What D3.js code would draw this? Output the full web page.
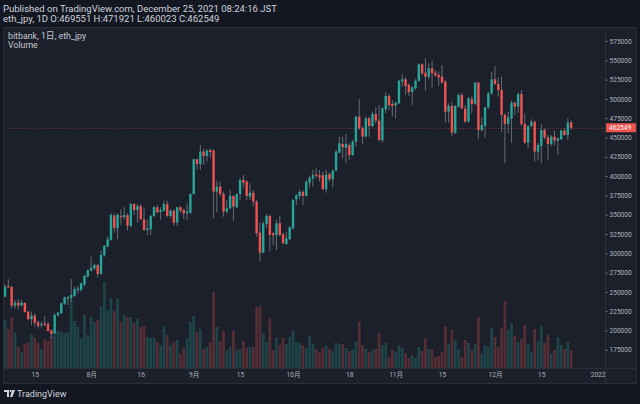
<!DOCTYPE html>
<html><head><meta charset="utf-8">
<script src="https://cdn.jsdelivr.net/npm/d3@7"></script>
<style>html,body{margin:0;padding:0;background:#131722;overflow:hidden}
text{font-family:Roboto,"Noto Sans CJK JP",sans-serif}</style>
</head><body>
<svg id="c" width="640" height="404"></svg>
<script>
// ---------------- DATA ----------------
const startDate = "2021-07-06";
const opens = [243900,257700,256400,232250,236130,232250,235700,224470,214550,219290,210660,206780,209370,208500,199870,196420,219730,222310,234410,241310,241740,244770,252540,252540,259440,269800,277580,280600,284480,273260,297430,308650,317290,348800,332400,
348370,346640,349230,335420,363910,356140,361320,344050,330230,331100,348370,359590,353550,355270,363910,348370,355270,339730,359590,356140,351820,352680,376860,421760,415710,431680,426070,433840,432980,379880,386360,376860,353980,358300,374270,
359590,376860,394990,392830,373400,378580,366930,326780,300870,338000,348370,325910,323760,338860,324620,312100,318150,332390,369950,374270,379450,374270,391530,397140,402000,401030,401030,382900,402760,395850,407070,430390,441610,436430,440310,
427360,444630,477010,461900,451100,474840,464920,480460,471830,446790,486500,503770,493410,491680,494270,522760,525360,518020,508950,513700,523200,544780,533990,528810,539600,533990,530970,528810,522330,483480,490820,456280,489960,505070,487800,
470530,499450,493410,521040,459740,465000,489090,507230,525360,519310,511540,479160,467510,474840,495140,489960,506360,467510,443330,464920,470530,431680,439020,459740,450240,441610,451100,445920,447650,458870,453260,469551];
const highs = [260300,266300,257700,239590,240450,239590,236500,224900,224470,222310,212820,211530,218860,211530,201600,222310,224470,236130,243900,244770,266780,256850,257710,262030,271960,279300,295700,286200,286200,303040,310800,321610,351826,351826,351826,
357000,360450,351820,364770,364770,363910,363910,359590,343180,349660,361320,362610,359590,368220,368220,357000,357000,360450,361320,357860,364770,377720,422620,422620,440320,436000,434700,435570,434700,394130,392830,379880,369090,382040,375560,
377720,397140,401460,394990,390670,382040,369080,339730,341020,350960,349660,328070,343180,348370,326780,328070,335410,369950,376860,382900,382040,394990,400170,407940,410100,407940,405780,407940,404480,408800,433840,451110,451110,454560,442470,
446790,477870,499450,464920,477010,477010,483480,489090,492110,489090,508090,506360,498590,496430,524490,532260,527950,520170,516720,525360,546080,546080,552550,546080,549530,537440,535280,543920,524490,494270,496430,492110,507230,508090,492110,
502910,503770,522330,522330,477010,489960,509380,535280,542620,527950,528810,481320,483480,497730,496430,508090,511540,481320,466210,473550,471830,443330,467510,461900,453260,453260,458870,450240,460600,461900,474840,471921];
const lows = [243040,255500,228800,228360,226630,230950,223180,213680,207210,205050,202890,204190,205050,198580,189940,195550,218000,221450,233110,233110,237420,243040,248220,250380,256850,268940,276280,278440,268940,271960,295700,307790,316430,326790,318150,
336710,343180,329370,333690,349660,339730,343180,329370,323330,323760,346640,351820,343180,353980,346640,345340,335420,335420,352680,344050,343180,350960,376000,408800,407940,414420,418730,423050,345340,352680,373400,347500,351820,357000,342320,
358290,369080,385490,369080,369080,361320,321600,289220,300010,332390,302170,310800,304330,321600,312100,310800,317280,330230,362610,369950,362610,373400,385490,386350,397140,392830,382040,378580,392830,385490,405780,429520,423050,416570,420890,
426070,438150,459740,441610,450240,451100,463190,468370,444630,443330,481320,485640,477010,474840,493410,515860,505070,503770,492110,511540,522330,530970,510680,525360,515000,528810,516720,520170,469240,469240,451960,454550,489090,486500,468370,
469240,481320,492110,447650,457580,450240,486500,505070,518020,502910,457580,416560,455420,443330,479160,482190,464920,441610,435990,463190,418730,420890,416560,447650,420890,439020,440310,427360,446790,451960,446790,460023];
const closes = [256850,256000,232250,236130,232250,236130,224040,214550,219290,210230,205910,208500,207640,199440,195550,220160,223180,235270,243040,243040,246060,253400,254260,261170,270670,278010,281030,284910,273260,297860,309520,318150,349668,332830,349668,
346640,349660,335850,363910,356140,361320,344050,330230,331960,348370,359590,353120,356140,363910,348370,355270,339730,359590,355270,351820,354410,376860,421760,415710,431680,426070,432980,431250,379880,386360,376860,353980,358300,374270,360450,
376860,394990,391530,374270,378580,366930,325910,300870,338860,348370,323760,323330,338860,323760,312970,319440,333680,369080,375130,379450,374270,392830,398010,401460,400300,398440,382900,401890,395850,407070,431680,442470,437290,441610,427360,
444630,477010,461900,451100,474840,464920,480460,471830,446790,487800,503770,492110,490820,495140,523630,525360,516720,508950,515000,523630,544780,533120,528810,539600,533120,530540,527950,521040,483480,490820,456280,490820,505070,487800,470530,
500750,493410,521040,459740,466210,489090,507230,525360,519310,511540,479160,467510,476140,495140,489960,506360,467510,443330,464920,470530,431680,440310,459740,450240,441610,451100,445920,448940,458870,453260,469240,462549];
const volumes = [4800,3900,5100,3600,2100,1600,2400,2600,3400,3000,2500,1900,2900,2700,3100,3800,3700,3600,3500,3600,6800,4700,4100,3000,5300,3300,5100,4600,4800,6200,8600,5800,7000,5700,7000,
4600,5300,5100,5100,4500,4900,4100,4200,3100,3000,3000,2600,2300,4200,3300,2300,2600,2800,1400,2000,3000,4600,5200,3600,3900,1900,2100,2600,7600,4100,2700,3700,1800,2100,3700,
1800,1900,2700,2000,2100,2100,6100,6200,3500,2600,5000,1800,3000,2300,3000,2400,3100,3700,2600,2500,2300,2000,3200,2400,1900,1600,2000,2200,1900,1700,2500,2400,2400,2000,1700,
1900,2700,4600,2300,1900,1600,1800,1900,3500,2300,2500,1100,1800,1600,2300,2000,1500,1000,1300,1000,2100,1700,3000,1900,1900,1100,1200,1600,4200,2400,3800,2800,1900,1100,2800,
2500,1800,2400,5100,1400,2300,2100,4000,3100,2100,4000,6700,3800,4500,3200,2600,2900,4300,2400,1600,3900,2700,4200,2500,3300,1400,1800,3100,2300,1900,2600,1800];
const priceTicks = [175000,200000,225000,250000,275000,300000,325000,350000,375000,400000,425000,450000,475000,500000,525000,550000,575000];
const timeTickDates = ["2021-07-15","2021-08-01","2021-08-16","2021-09-01","2021-09-15","2021-10-01","2021-10-18","2021-11-01","2021-11-15","2021-12-01","2021-12-15","2022-01-01"];
const timeTickLabels = ["15","8月","16","9月","15","10月","18","11月","15","12月","15","2022"];
const headerLine1 = "Published on TradingView.com, December 25, 2021 08:24:16 JST";
const headerLine2 = "eth_jpy, 1D O:469551 H:471921 L:460023 C:462549";
const legend1 = "bitbank, 1日, eth_jpy";
const legend2 = "Volume";
const lastPrice = 462549;

// ---------------- LAYOUT ----------------
const W = 640, H = 404;
const paneL = 3, paneR = 637, paneT = 27, paneB = 384;
const plotR = 605.5, plotB = 368.5;
const UP = "#26a69a", DOWN = "#ef5350";
const parse = d3.timeParse("%Y-%m-%d");
const t0 = parse(startDate);
const data = opens.map((o, i) => ({
  date: d3.timeDay.offset(t0, i), o, h: highs[i], l: lows[i], c: closes[i], v: volumes[i]
}));

const svg = d3.select("#c");
svg.append("rect").attr("width", W).attr("height", H).attr("fill", "#131722");
svg.append("rect").attr("x", paneL + 0.5).attr("y", paneT + 0.5)
  .attr("width", paneR - paneL - 1).attr("height", paneB - paneT - 1)
  .attr("fill", "#1c202b").attr("stroke", "#2a2e39");

const x = d3.scaleTime()
  .domain([parse("2021-07-15"), parse("2022-01-01")])
  .range([34.8, 597.6]);
const y = d3.scaleLinear().domain([175000, 575000]).range([349.8, 41]);
const yv = d3.scaleLinear().domain([0, 10000]).range([plotB - 0.5, plotB - 100.5]);

svg.append("clipPath").attr("id", "plotclip").append("rect")
  .attr("x", paneL + 1).attr("y", paneT + 1).attr("width", plotR - paneL - 1).attr("height", plotB - paneT - 1);

const g = svg.append("g").attr("clip-path", "url(#plotclip)");

// volume
g.append("g").selectAll("rect").data(data).join("rect")
  .attr("x", d => x(d.date) - 1.35)
  .attr("width", 2.7)
  .attr("y", d => yv(d.v))
  .attr("height", d => yv(0) - yv(d.v))
  .attr("fill", d => d.c >= d.o ? UP : DOWN)
  .attr("fill-opacity", 0.27);

// price line
g.append("line")
  .attr("x1", paneL).attr("x2", plotR)
  .attr("y1", Math.round(y(lastPrice)) + 0.5).attr("y2", Math.round(y(lastPrice)) + 0.5)
  .attr("stroke", DOWN).attr("stroke-opacity", 0.38).attr("stroke-dasharray", "1,1.5");

// wicks
g.append("g").selectAll("line").data(data).join("line")
  .attr("x1", d => x(d.date)).attr("x2", d => x(d.date))
  .attr("y1", d => y(d.h)).attr("y2", d => y(d.l))
  .attr("stroke", "#666a74").attr("stroke-width", 1);

// bodies
g.append("g").selectAll("rect").data(data).join("rect")
  .attr("x", d => x(d.date) - 1.2)
  .attr("width", 2.4)
  .attr("y", d => y(Math.max(d.o, d.c)))
  .attr("height", d => Math.max(0.8, Math.abs(y(d.o) - y(d.c))))
  .attr("fill", d => d.c >= d.o ? UP : DOWN);

// separators
svg.append("line").attr("x1", plotR).attr("x2", plotR).attr("y1", paneT).attr("y2", paneB).attr("stroke", "#2a2e39");
svg.append("line").attr("x1", paneL).attr("x2", paneR).attr("y1", plotB).attr("y2", plotB).attr("stroke", "#2a2e39");

// price axis
const ya = svg.append("g").attr("transform", `translate(${plotR},0)`)
  .call(d3.axisRight(y).tickValues(priceTicks).tickFormat(d3.format("d")).tickSize(2).tickPadding(2));
ya.select(".domain").remove();
ya.selectAll(".tick line").attr("stroke", "#787b86");
ya.selectAll(".tick text").attr("fill", "#b2b5be").attr("font-size", 6.6).attr("font-family", "Roboto");

// time axis
const xa = svg.append("g").attr("transform", `translate(0,${plotB})`)
  .call(d3.axisBottom(x).tickValues(timeTickDates.map(parse)).tickFormat((d, i) => timeTickLabels[i]).tickSize(0).tickPadding(4));
xa.select(".domain").remove();
xa.selectAll(".tick text").attr("fill", "#b2b5be").attr("font-size", 6.6);

// last price label
const ly = y(lastPrice);
svg.append("rect").attr("x", plotR + 0.5).attr("y", ly - 4.5).attr("width", 30).attr("height", 9).attr("fill", DOWN).attr("rx", 1);
svg.append("text").attr("x", plotR + 3.5).attr("y", ly).attr("dy", "0.35em")
  .attr("fill", "#ffffff").attr("font-size", 6.6).text(d3.format("d")(lastPrice));

// header
svg.append("text").attr("x", 3).attr("y", 12).attr("fill", "#d1d4dc").attr("font-size", 9.5).text(headerLine1);
svg.append("text").attr("x", 3).attr("y", 22).attr("fill", "#d1d4dc").attr("font-size", 9.5).text(headerLine2);
svg.append("text").attr("x", 8).attr("y", 38.5).attr("fill", "#c4c7cf").attr("font-size", 8.8).text(legend1);
svg.append("text").attr("x", 8).attr("y", 47.5).attr("fill", "#c4c7cf").attr("font-size", 8.8).text(legend2);

// TradingView logo
const logo = svg.append("g").attr("transform", "translate(4,390)").attr("fill", "#d1d4dc");
logo.append("path").attr("d", "M0,0 H5 V7 H3 V2 H0 Z");
logo.append("circle").attr("cx", 6.6).attr("cy", 1.1).attr("r", 1.1);
logo.append("path").attr("d", "M8.2,0 H11 L8.3,7 H6 Z");
svg.append("text").attr("x", 17).attr("y", 397).attr("fill", "#d1d4dc").attr("font-size", 9).text("TradingView");
</script>
</body></html>
